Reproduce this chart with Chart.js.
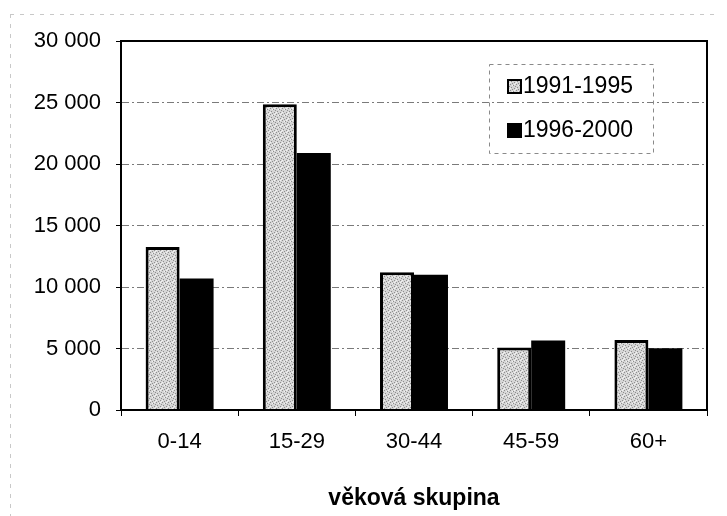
<!DOCTYPE html>
<html>
<head>
<meta charset="utf-8">
<script src="https://cdn.jsdelivr.net/npm/chart.js@4/dist/chart.umd.min.js"></script>
<style>
  html, body { margin: 0; padding: 0; background: #fff; }
  #wrap { width: 727px; height: 516px; position: relative; }
</style>
</head>
<body>
<div id="wrap"><canvas id="chart" width="727" height="516"></canvas></div>
<script>
const categories = ['0-14', '15-29', '30-44', '45-59', '60+'];
const series1991 = [13250, 24850, 11200, 5080, 5700];
const series1996 = [10700, 20900, 11000, 5650, 5020];
const seriesNames = ['1991-1995', '1996-2000'];
const yTicks = [0, 5000, 10000, 15000, 20000, 25000, 30000];

const FONT = '"Liberation Sans", Arial, sans-serif';

// stippled grey fill like the scanned original
function makeStipple() {
  const c = document.createElement('canvas');
  c.width = 6; c.height = 6;
  const g = c.getContext('2d');
  g.fillStyle = '#d6d6d6';
  g.fillRect(0, 0, 6, 6);
  g.fillStyle = '#8e8e8e';
  [[0,0],[3,1],[1,3],[4,4],[2,5],[5,2]].forEach(([x, y]) => g.fillRect(x, y, 1, 1));
  g.fillStyle = '#f2f2f2';
  [[2,1],[5,5],[0,4],[4,0]].forEach(([x, y]) => g.fillRect(x, y, 1, 1));
  return g.createPattern(c, 'repeat');
}

const fmt = v => String(v).replace(/\B(?=(\d{3})+(?!\d))/g, ' ');

const frame = {
  id: 'frame',
  beforeDraw(chart) {
    const ctx = chart.ctx;
    ctx.save();
    ctx.strokeStyle = '#c8c8c8';
    ctx.lineWidth = 1;
    ctx.setLineDash([4, 6]);
    ctx.beginPath();
    ctx.moveTo(10, 14.5); ctx.lineTo(720, 14.5);
    ctx.moveTo(10.5, 14); ctx.lineTo(10.5, 516);
    ctx.stroke();
    ctx.restore();
  },
  afterDraw(chart) {
    const { ctx, chartArea: a } = chart;
    ctx.save();
    ctx.strokeStyle = '#000';
    ctx.lineWidth = 2;
    ctx.strokeRect(a.left, a.top, a.right - a.left, a.bottom - a.top);

    // legend box inside plot
    const bx = a.left + 368, by = a.top + 23, bw = 164, bh = 89;
    ctx.strokeStyle = '#8a8a8a';
    ctx.lineWidth = 1;
    ctx.setLineDash([4, 4]);
    ctx.strokeRect(bx + 0.5, by + 0.5, bw, bh);
    ctx.setLineDash([]);
    ctx.font = '23px ' + FONT;
    ctx.textBaseline = 'middle';
    chart.data.datasets.forEach((ds, i) => {
      const cy = by + 22 + i * 44;
      ctx.fillStyle = ds.backgroundColor;
      ctx.fillRect(bx + 19, cy - 6, 13, 13);
      ctx.strokeStyle = '#000';
      ctx.lineWidth = 2;
      ctx.strokeRect(bx + 19, cy - 6, 13, 13);
      ctx.fillStyle = '#000';
      ctx.fillText(ds.label, bx + 34, cy + 1);
    });
    ctx.restore();
  }
};

const ctx = document.getElementById('chart').getContext('2d');
new Chart(ctx, {
  type: 'bar',
  data: {
    labels: categories,
    datasets: [
      {
        label: seriesNames[0],
        data: series1991,
        backgroundColor: makeStipple(),
        borderColor: '#000',
        borderWidth: 3,
        borderSkipped: 'bottom'
      },
      {
        label: seriesNames[1],
        data: series1996,
        backgroundColor: '#000',
        borderColor: '#000',
        borderWidth: 0
      }
    ]
  },
  options: {
    responsive: false,
    animation: false,
    events: [],
    layout: { padding: { left: 0, right: 20, top: 41, bottom: 0 } },
    datasets: { bar: { barPercentage: 1, categoryPercentage: 0.58 } },
    plugins: {
      legend: { display: false },
      tooltip: { enabled: false }
    },
    scales: {
      x: {
        offset: true,
        grid: { display: true, drawOnChartArea: false, tickLength: 6, color: '#000', lineWidth: 1 },
        border: { display: true, color: '#000', width: 2 },
        ticks: { color: '#000', font: { family: FONT, size: 22 }, padding: 13 },
        title: {
          display: true,
          text: 'věková skupina',
          color: '#000',
          font: { family: FONT, size: 23, weight: 'bold' },
          padding: { top: 4, bottom: 4 }
        },
        afterFit: s => { s.height = 106; }
      },
      y: {
        min: 0,
        max: 30000,
        afterBuildTicks: s => { s.ticks = yTicks.map(v => ({ value: v })); },
        grid: {
          color: '#7a7a7a',
          lineWidth: 1,
          tickLength: 5,
          tickColor: '#000'
        },
        border: { display: true, color: '#000', width: 2, dash: [7, 3, 2, 3] },
        ticks: {
          color: '#000',
          font: { family: FONT, size: 22 },
          padding: 15,
          callback: v => fmt(v)
        },
        afterFit: s => { s.width = 121; }
      }
    }
  },
  plugins: [frame]
});
</script>
</body>
</html>
